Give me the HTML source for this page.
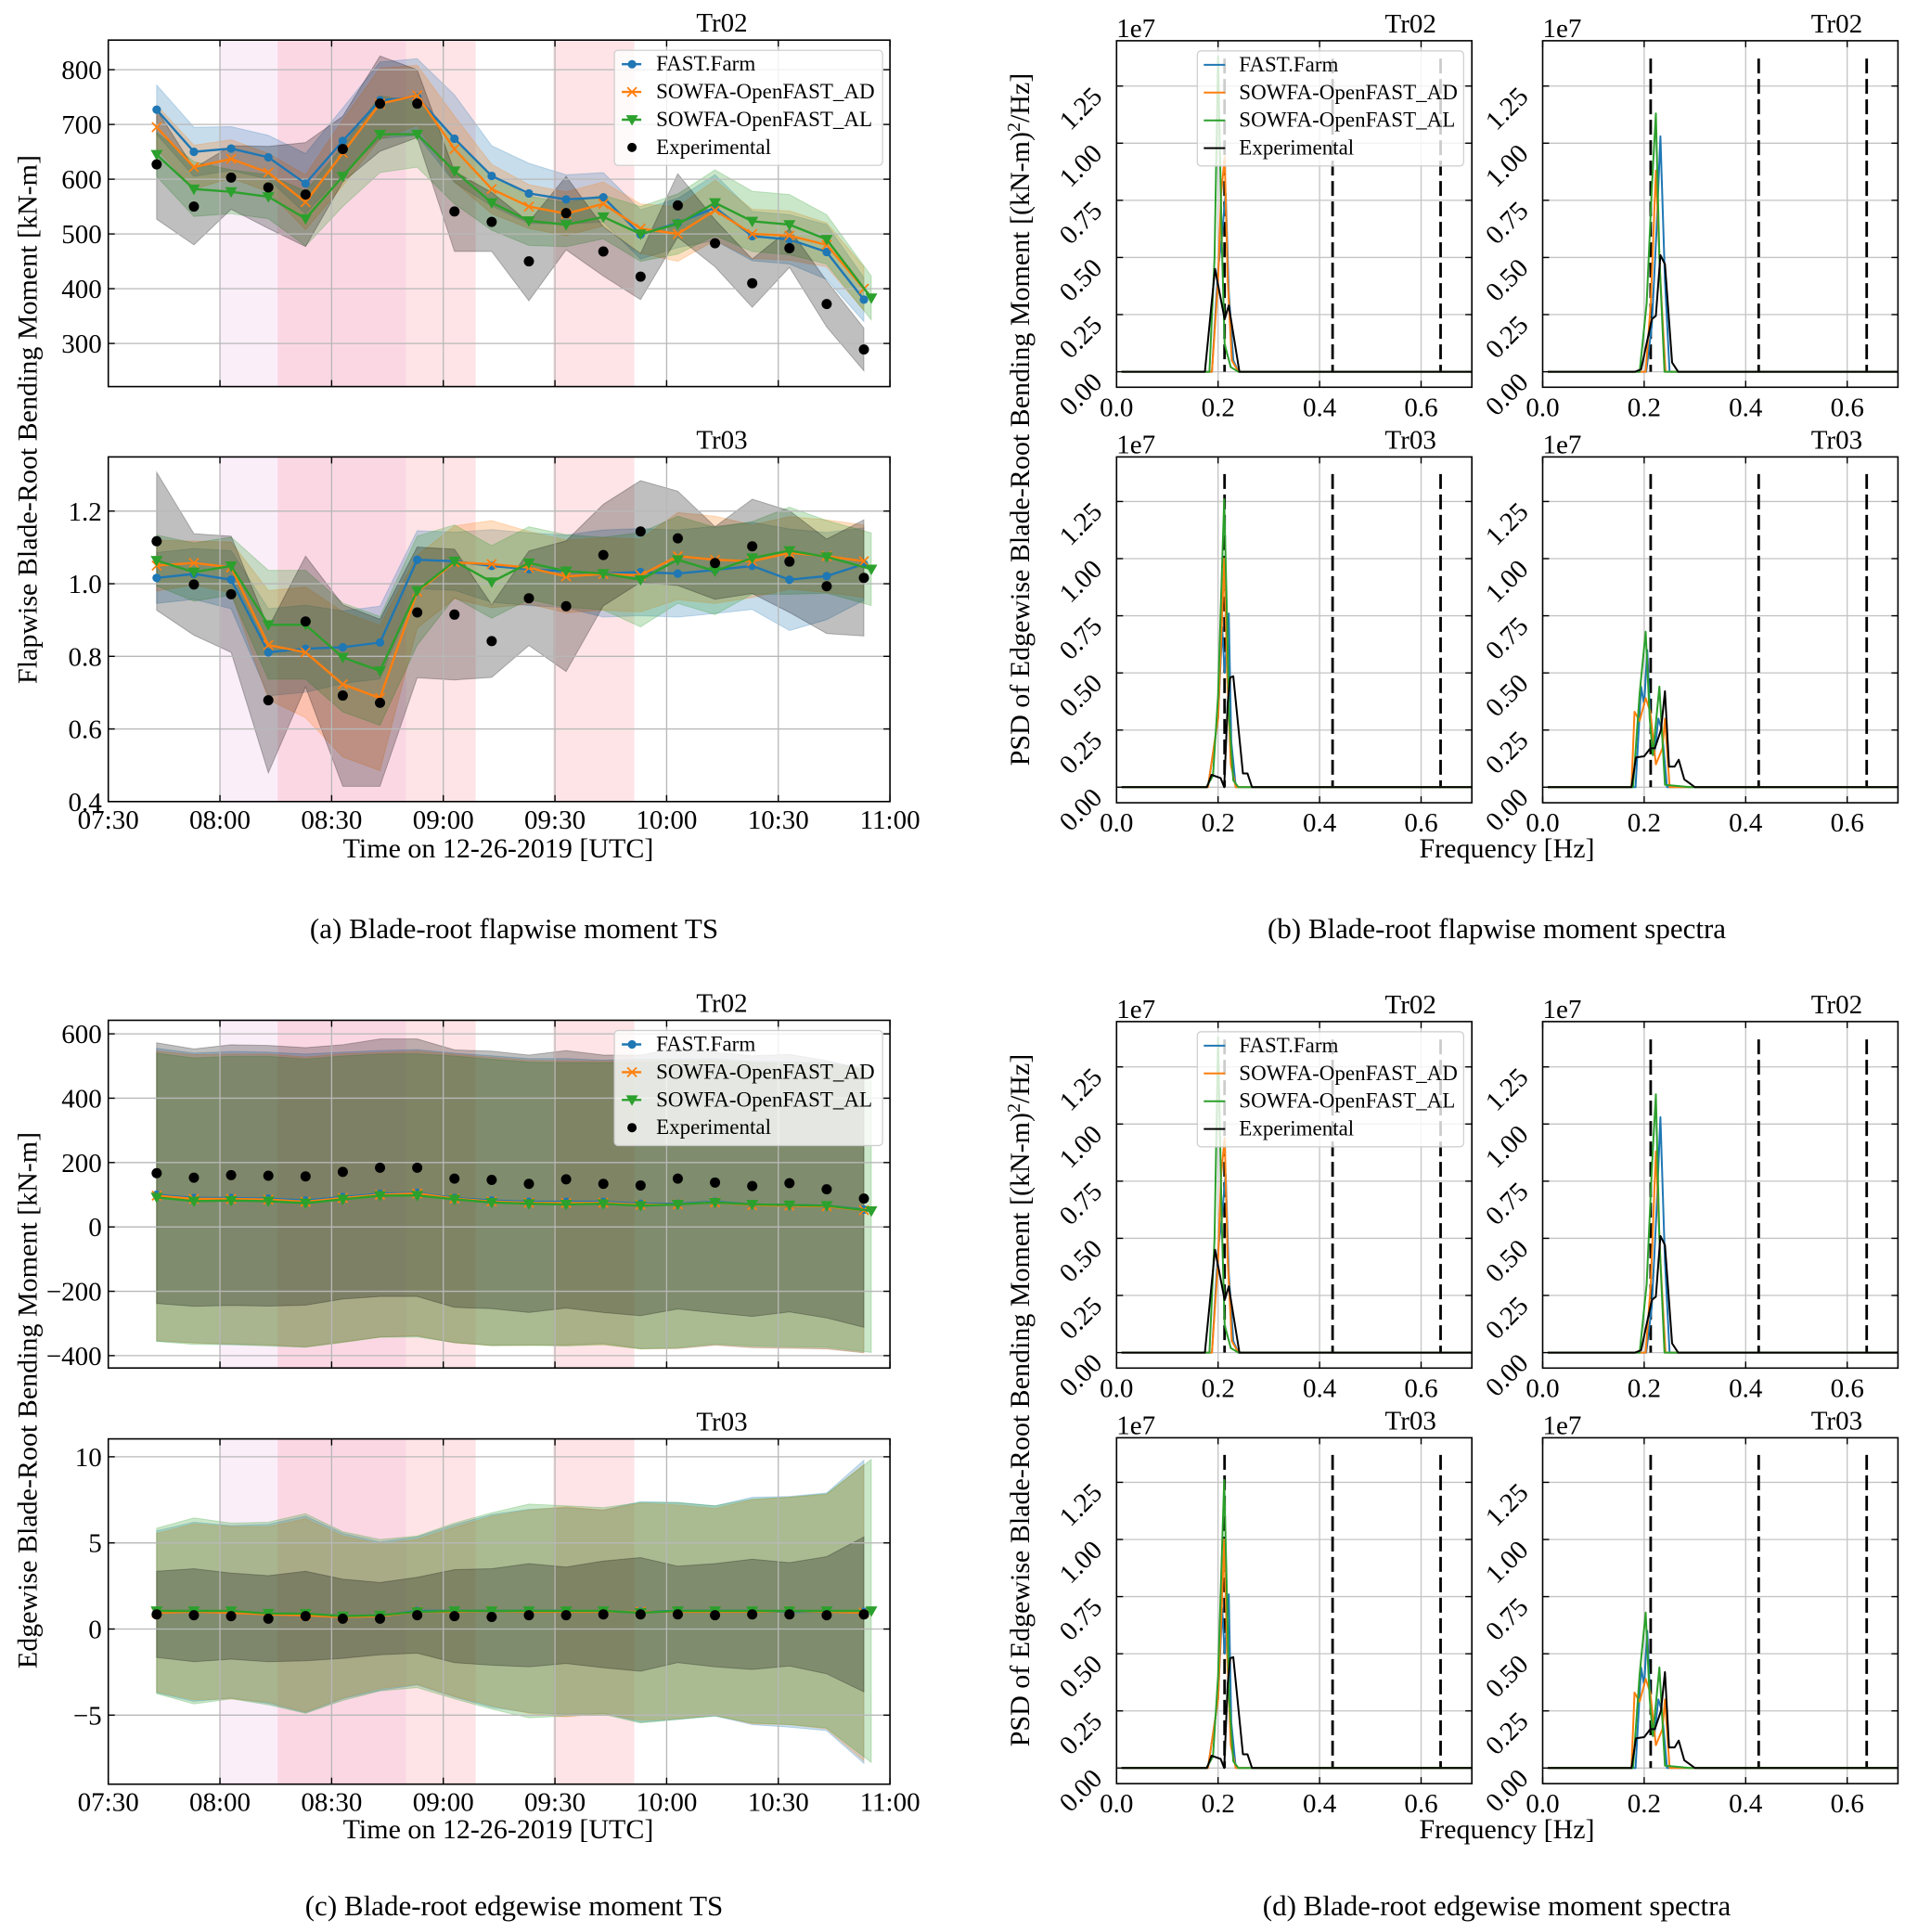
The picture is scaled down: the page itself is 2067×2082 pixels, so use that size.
<!DOCTYPE html>
<html><head><meta charset="utf-8">
<style>
html,body{margin:0;padding:0;background:#fff;}
svg{display:block;font-family:"Liberation Serif","DejaVu Serif",serif;}
</style></head>
<body>
<svg id="fig" xmlns="http://www.w3.org/2000/svg" width="2067" height="2082" viewBox="0 0 2067 2082"></svg>
<script>
// ---------- time-series data ----------
const timeMin = [13,23,33,43,53,63,73,83,93,103,113,123,133,143,153,163,173,183,193,203];
const timeMinAL = [13,23,33,43,53,63,73,83,93,103,113,123,133,143,153,163,173,183,193,205];
const xTickMin = [0,30,60,90,120,150,180,210];
const xTickLabels = ["07:30","08:00","08:30","09:00","09:30","10:00","10:30","11:00"];
const spanStartMin = [30,45.5,80,119.6];
const spanEndMin = [45.5,80,98.7,141.3];

const flapTr02Fast=[727,650,656,640,592,670,744,750,674,606,574,563,567,499,520,548,496,490,467,380];
const flapTr02AD=[695,622,637,612,558,648,738,753,655,582,550,537,555,510,500,543,500,497,480,400];
const flapTr02AL=[645,582,577,568,528,605,682,682,615,557,524,517,531,500,518,557,523,517,490,383];
const flapTr02Exp=[627,550,603,585,572,655,738,738,541,522,450,538,468,422,552,483,410,474,372,289];
const flapTr02FastW=[45,45,40,40,55,60,70,70,80,55,55,45,45,45,45,60,45,45,50,40];
const flapTr02ADW=[40,40,35,35,50,60,65,55,60,45,40,40,40,45,50,55,45,45,40,40];
const flapTr02ALW=[40,50,40,40,50,55,70,60,60,50,45,40,40,50,55,60,55,55,45,40];
const flapTr02ExpW=[100,70,58,75,95,60,87,62,73,54,72,67,45,42,58,43,44,35,42,39];

const flapTr03Fast=[1.016,1.027,1.011,0.811,0.821,0.825,0.838,1.066,1.062,1.049,1.04,1.034,1.028,1.032,1.028,1.038,1.049,1.011,1.021,1.054];
const flapTr03AD=[1.05,1.057,1.045,0.831,0.811,0.723,0.685,0.978,1.059,1.054,1.044,1.02,1.027,1.023,1.076,1.066,1.062,1.085,1.076,1.062];
const flapTr03AL=[1.064,1.032,1.049,0.887,0.887,0.797,0.76,0.981,1.062,1.005,1.057,1.035,1.028,1.011,1.066,1.035,1.071,1.091,1.074,1.04];
const flapTr03Exp=[1.117,0.998,0.971,0.679,0.896,0.692,0.672,0.921,0.915,0.842,0.96,0.938,1.079,1.144,1.125,1.057,1.103,1.061,0.993,1.016];
const flapTr03FastW=[0.07,0.07,0.08,0.12,0.12,0.1,0.1,0.08,0.08,0.1,0.1,0.1,0.12,0.12,0.12,0.12,0.12,0.14,0.12,0.1];
const flapTr03ADW=[0.07,0.06,0.07,0.15,0.18,0.2,0.2,0.1,0.1,0.12,0.1,0.1,0.1,0.1,0.12,0.12,0.1,0.1,0.1,0.1];
const flapTr03ALW=[0.07,0.08,0.08,0.15,0.15,0.15,0.15,0.15,0.1,0.1,0.1,0.1,0.1,0.13,0.12,0.12,0.1,0.12,0.1,0.1];
const flapTr03ExpW=[0.19,0.14,0.16,0.2,0.18,0.25,0.23,0.18,0.18,0.1,0.13,0.18,0.14,0.14,0.13,0.1,0.13,0.14,0.13,0.16];

const edgeTr02Fast=[100,90,90,88,82,93,103,106,90,82,78,78,78,72,72,78,70,68,66,54];
const edgeTr02AD=[97,87,87,85,78,90,100,104,88,79,75,74,75,69,70,76,68,66,64,52];
const edgeTr02AL=[92,80,82,80,74,86,97,98,86,76,72,70,72,66,70,76,70,68,66,50];
const edgeTr02Exp=[167,153,161,159,157,171,184,184,150,146,134,148,134,129,150,138,127,136,117,88];
const edgeTr02FastW=[455,450,455,455,455,450,445,445,450,450,445,445,440,450,450,445,445,445,445,445];
const edgeTr02ADW=[450,448,450,452,450,448,442,442,448,448,443,442,440,448,448,443,443,443,443,443];
const edgeTr02ALW=[448,445,448,450,448,445,440,440,445,445,440,440,438,445,445,440,440,440,440,440];
const edgeTr02ExpW=[405,400,405,405,400,395,400,400,400,400,400,400,400,405,405,405,405,400,400,400];

const edgeTr03Fast=[1.0,1.0,1.0,0.88,0.85,0.75,0.75,1.05,1.05,1.05,1.05,1.05,1.0,1.0,1.05,1.05,1.05,1.0,1.0,1.0];
const edgeTr03AD=[0.95,1.0,0.95,0.85,0.8,0.7,0.75,1.0,1.0,1.05,1.0,1.0,1.0,1.0,1.0,1.0,1.0,1.05,1.0,0.95];
const edgeTr03AL=[1.05,1.05,1.05,0.9,0.9,0.75,0.8,1.0,1.05,1.05,1.05,1.05,1.05,0.95,1.05,1.05,1.05,1.05,1.05,1.05];
const edgeTr03Exp=[0.85,0.8,0.75,0.6,0.75,0.6,0.6,0.8,0.75,0.7,0.8,0.8,0.85,0.85,0.85,0.8,0.85,0.85,0.8,0.85];
const edgeTr03FastW=[4.7,5.2,5.0,5.2,5.7,4.8,4.3,4.3,5.0,5.6,5.9,6.0,5.9,6.4,6.3,6.1,6.6,6.7,6.9,8.8];
const edgeTr03ADW=[4.6,5.1,5.0,5.1,5.6,4.7,4.2,4.2,4.9,5.5,5.9,6.1,5.9,6.3,6.2,6.0,6.5,6.6,6.8,8.6];
const edgeTr03ALW=[4.8,5.4,5.1,5.3,5.8,4.9,4.4,4.4,5.1,5.7,6.2,6.1,6.0,6.4,6.3,6.1,6.5,6.6,6.8,8.8];
const edgeTr03ExpW=[2.5,2.7,2.5,2.5,2.6,2.3,2.1,2.2,2.7,2.8,3.0,2.8,3.1,3.3,2.8,3.0,3.2,3.0,3.4,4.5];

// ---------- spectra data ([frequency Hz, PSD x1e7]) ----------
const specXTicks=[0,0.2,0.4,0.6];
const specXTickLabels=["0.0","0.2","0.4","0.6"];
const specYTicks=[0,0.25,0.5,0.75,1.0,1.25];
const specYTickLabels=["0.00","0.25","0.50","0.75","1.00","1.25"];
const harmonicsHz=[0.2128,0.4256,0.6384];
const harmonicTop=1.37;

const specTLFast=[[0.01,0],[0.188,0],[0.2,0.45],[0.207,0.58],[0.215,0.78],[0.221,0.35],[0.23,0.05],[0.24,0],[0.7,0]];
const specTLAD=[[0.01,0],[0.188,0],[0.2,0.4],[0.206,0.78],[0.213,0.94],[0.219,0.4],[0.227,0.05],[0.24,0],[0.7,0]];
const specTLAL=[[0.01,0],[0.183,0],[0.193,0.5],[0.2,1.38],[0.207,0.6],[0.213,0.12],[0.225,0.02],[0.24,0],[0.7,0]];
const specTLExp=[[0.01,0],[0.174,0],[0.194,0.45],[0.213,0.23],[0.221,0.29],[0.242,0],[0.7,0]];

const specTRFast=[[0.01,0],[0.204,0],[0.215,0.2],[0.224,0.6],[0.232,1.03],[0.241,0.4],[0.25,0],[0.7,0]];
const specTRAD=[[0.01,0],[0.203,0],[0.213,0.3],[0.223,0.88],[0.232,0.4],[0.242,0],[0.7,0]];
const specTRAL=[[0.01,0],[0.191,0],[0.205,0.3],[0.215,0.8],[0.223,1.13],[0.23,0.5],[0.24,0],[0.7,0]];
const specTRExp=[[0.01,0],[0.182,0],[0.194,0.01],[0.215,0.23],[0.223,0.245],[0.232,0.51],[0.241,0.47],[0.255,0.04],[0.267,0],[0.7,0]];

const specBLFast=[[0.01,0],[0.18,0],[0.2,0.3],[0.208,0.7],[0.213,0.5],[0.221,0.76],[0.226,0.2],[0.235,0],[0.7,0]];
const specBLAD=[[0.01,0],[0.18,0],[0.2,0.3],[0.208,0.75],[0.212,1.0],[0.218,0.5],[0.225,0.1],[0.235,0],[0.7,0]];
const specBLAL=[[0.01,0],[0.177,0],[0.19,0.05],[0.2,0.4],[0.207,0.9],[0.212,1.26],[0.217,0.8],[0.222,0.3],[0.23,0.03],[0.24,0],[0.7,0]];
const specBLExp=[[0.01,0],[0.178,0],[0.187,0.054],[0.205,0.04],[0.212,0.0],[0.219,0.37],[0.224,0.48],[0.23,0.485],[0.249,0.06],[0.258,0.06],[0.267,0],[0.7,0]];

const specBRFast=[[0.01,0],[0.183,0],[0.194,0.44],[0.2,0.36],[0.206,0.6],[0.213,0.25],[0.22,0.14],[0.228,0.3],[0.235,0.25],[0.245,0],[0.7,0]];
const specBRAD=[[0.01,0],[0.175,0],[0.181,0.33],[0.191,0.29],[0.203,0.39],[0.212,0.33],[0.223,0.1],[0.236,0.17],[0.241,0.3],[0.25,0],[0.7,0]];
const specBRAL=[[0.01,0],[0.178,0],[0.191,0.41],[0.203,0.68],[0.211,0.3],[0.217,0.14],[0.23,0.44],[0.241,0.01],[0.29,0],[0.7,0]];
const specBRExp=[[0.01,0],[0.175,0],[0.184,0.13],[0.2,0.135],[0.212,0.17],[0.221,0.17],[0.233,0.25],[0.241,0.42],[0.249,0.09],[0.26,0.09],[0.268,0.12],[0.279,0.034],[0.288,0.02],[0.3,0],[0.7,0]];

// ---------- helpers ----------
const NS='http://www.w3.org/2000/svg';
const svg=document.getElementById('fig');
const C={blue:'#1f77b4',orange:'#ff7f0e',green:'#2ca02c',black:'#000000'};
const FT=29, FL=30, FC=31, FG=23;
let clipId=0;
function el(tag,attrs,parent,name,inter){
  const e=document.createElementNS(NS,tag);
  for(const k in attrs) e.setAttribute(k,attrs[k]);
  
  
  (parent||svg).appendChild(e);
  return e;
}
function txt(parent,x,y,s,size,anchor,name,extra){
  const a=Object.assign({x:x,y:y,'font-size':size,'text-anchor':anchor||'start',fill:'#000'},extra||{});
  const t=el('text',a,parent,name,false);
  t.textContent=s;
  return t;
}
function markerCircle(g,x,y,r,col,name){ el('circle',{cx:x,cy:y,r:r,fill:col},g,name,false); }
function markerX(g,x,y,col,name){ const s=5; el('path',{d:`M${x-s},${y-s}L${x+s},${y+s}M${x-s},${y+s}L${x+s},${y-s}`,stroke:col,'stroke-width':1.8,fill:'none'},g,name,false); }
function markerTri(g,x,y,col,name){ const s=6.5; el('path',{d:`M${x-s},${y-s*0.75}L${x+s},${y-s*0.75}L${x},${y+s}Z`,fill:col},g,name,false); }

function drawTS(o){
  const g=el('g',{},svg,o.name,false);
  const X=m=>o.L+(m/210)*(o.R-o.L);
  const Y=v=>o.y0+(v-o.v0)*(o.y1-o.y0)/(o.v1-o.v0);
  const cid='clip'+(clipId++);
  const defs=el('defs',{},g,'clip-defs',false);
  const cp=el('clipPath',{id:cid},defs,'plot-clip',false);
  el('rect',{x:o.L,y:o.T,width:o.R-o.L,height:o.B-o.T},cp,'clip-rect',false);
  const pg=el('g',{'clip-path':`url(#${cid})`},g,'plot-area',false);
  const spanCols=['rgba(238,200,235,0.3)','rgba(244,150,185,0.38)','rgba(252,190,195,0.42)','rgba(252,190,195,0.42)'];
  for(let i=0;i<spanStartMin.length;i++){
    el('rect',{x:X(spanStartMin[i]),y:o.T,width:X(spanEndMin[i])-X(spanStartMin[i]),height:o.B-o.T,fill:spanCols[i]},pg,'highlight-span',false);
  }
  const ser=[
    {v:o.fast,w:o.fastW,t:timeMin,c:C.blue,n:'fast-farm'},
    {v:o.ad,w:o.adW,t:timeMin,c:C.orange,n:'sowfa-ad'},
    {v:o.al,w:o.alW,t:timeMinAL,c:C.green,n:'sowfa-al'},
    {v:o.exp,w:o.expW,t:timeMin,c:C.black,n:'experimental'}
  ];
  ser.forEach(s=>{
    let up=s.v.map((v,i)=>`${X(s.t[i]).toFixed(1)},${Y(v+s.w[i]).toFixed(1)}`);
    let lo=s.v.map((v,i)=>`${X(s.t[i]).toFixed(1)},${Y(v-s.w[i]).toFixed(1)}`).reverse();
    el('polygon',{points:up.concat(lo).join(' '),fill:s.c,'fill-opacity':0.25,stroke:s.c,'stroke-opacity':0.25,'stroke-width':1},pg,s.n+'-band',false);
  });
  xTickMin.forEach(m=>el('line',{x1:X(m),x2:X(m),y1:o.T,y2:o.B,stroke:'#b8b8b8','stroke-width':1.3},pg,'x-gridline',false));
  o.yticks.forEach(v=>el('line',{x1:o.L,x2:o.R,y1:Y(v),y2:Y(v),stroke:'#b8b8b8','stroke-width':1.3},pg,'y-gridline',false));
  ser.slice(0,3).forEach(s=>{
    const pts=s.v.map((v,i)=>`${X(s.t[i]).toFixed(1)},${Y(v).toFixed(1)}`).join(' ');
    el('polyline',{points:pts,fill:'none',stroke:s.c,'stroke-width':2.4},pg,s.n+'-line',false);
    s.v.forEach((v,i)=>{
      const x=X(s.t[i]),y=Y(v);
      if(s.n==='fast-farm') markerCircle(pg,x,y,4.6,s.c,'fast-farm-point');
      else if(s.n==='sowfa-ad') markerX(pg,x,y,s.c,'sowfa-ad-point');
      else markerTri(pg,x,y,s.c,'sowfa-al-point');
    });
  });
  o.exp.forEach((v,i)=>markerCircle(pg,X(timeMin[i]),Y(v),5.5,'#000','experimental-point'));
  el('rect',{x:o.L,y:o.T,width:o.R-o.L,height:o.B-o.T,fill:'none',stroke:'#000','stroke-width':1.6},g,'axes-frame',false);
  xTickMin.forEach(m=>{
    el('line',{x1:X(m),x2:X(m),y1:o.B,y2:o.B-7,stroke:'#000','stroke-width':1.4},g,'x-tick',false);
    el('line',{x1:X(m),x2:X(m),y1:o.T,y2:o.T+7,stroke:'#000','stroke-width':1.4},g,'x-tick-top',false);
  });
  o.yticks.forEach((v,i)=>{
    el('line',{x1:o.L,x2:o.L+7,y1:Y(v),y2:Y(v),stroke:'#000','stroke-width':1.4},g,'y-tick',false);
    el('line',{x1:o.R,x2:o.R-7,y1:Y(v),y2:Y(v),stroke:'#000','stroke-width':1.4},g,'y-tick-right',false);
    txt(g,o.L-7,Y(v)+10,o.ylabels[i],FT,'end','y-tick-label');
  });
  if(o.showX){
    xTickMin.forEach((m,i)=>txt(g,X(m),o.B+29,xTickLabels[i],FT,'middle','x-tick-label'));
  }
  txt(g,o.titleX,o.T-9,o.title,FT,'middle','subplot-title');
  if(o.legend){
    const lg=el('g',{},g,'legend',false);
    const lx=o.R-297, ly=o.T+11;
    el('rect',{x:lx,y:ly,width:289,height:124,rx:4,fill:'#fff','fill-opacity':0.8,stroke:'#cccccc','stroke-width':1.2},lg,'legend-box',false);
    const names=['FAST.Farm','SOWFA-OpenFAST_AD','SOWFA-OpenFAST_AL','Experimental'];
    const cols=[C.blue,C.orange,C.green,C.black];
    names.forEach((n,i)=>{
      const yy=ly+15+i*29.9;
      const mx=lx+19;
      if(i<3) el('line',{x1:lx+8,x2:lx+29,y1:yy,y2:yy,stroke:cols[i],'stroke-width':2.4},lg,'legend-line',false);
      if(i===0) markerCircle(lg,mx,yy,4.6,cols[i],'legend-marker');
      else if(i===1) markerX(lg,mx,yy,cols[i],'legend-marker');
      else if(i===2) markerTri(lg,mx,yy,cols[i],'legend-marker');
      else markerCircle(lg,mx,yy,5,'#000','legend-marker');
      txt(lg,lx+45,yy+7,n,FG,'start','legend-label');
    });
  }
}

function drawSpec(o){
  const g=el('g',{},svg,o.name,false);
  const X=f=>o.L+f*547;
  const Y=v=>o.Z-v*246.3;
  const cid='clip'+(clipId++);
  const defs=el('defs',{},g,'clip-defs',false);
  const cp=el('clipPath',{id:cid},defs,'plot-clip',false);
  el('rect',{x:o.L,y:o.T,width:o.R-o.L,height:o.B-o.T},cp,'clip-rect',false);
  const pg=el('g',{'clip-path':`url(#${cid})`},g,'plot-area',false);
  specXTicks.forEach(f=>el('line',{x1:X(f),x2:X(f),y1:o.T,y2:o.B,stroke:'#c4c4c4','stroke-width':1.3},pg,'x-gridline',false));
  specYTicks.forEach(v=>el('line',{x1:o.L,x2:o.R,y1:Y(v),y2:Y(v),stroke:'#c4c4c4','stroke-width':1.3},pg,'y-gridline',false));
  harmonicsHz.forEach(f=>el('line',{x1:X(f),x2:X(f),y1:Y(harmonicTop),y2:Y(0),stroke:'#000','stroke-width':2.8,'stroke-dasharray':'16 6'},pg,'harmonic-dashed-line',false));
  const ser=[[o.exp,C.black,'experimental'],[o.fast,C.blue,'fast-farm'],[o.ad,C.orange,'sowfa-ad'],[o.al,C.green,'sowfa-al']];
  [ser[1],ser[2],ser[3],ser[0]].forEach(s=>{
    const pts=s[0].map(p=>`${X(p[0]).toFixed(1)},${Y(p[1]).toFixed(1)}`).join(' ');
    el('polyline',{points:pts,fill:'none',stroke:s[1],'stroke-width':2,'stroke-linejoin':'round'},pg,s[2]+'-psd-line',false);
  });
  el('rect',{x:o.L,y:o.T,width:o.R-o.L,height:o.B-o.T,fill:'none',stroke:'#000','stroke-width':1.6},g,'axes-frame',false);
  specXTicks.forEach((f,i)=>{
    el('line',{x1:X(f),x2:X(f),y1:o.B,y2:o.B-7,stroke:'#000','stroke-width':1.4},g,'x-tick',false);
    el('line',{x1:X(f),x2:X(f),y1:o.T,y2:o.T+7,stroke:'#000','stroke-width':1.4},g,'x-tick-top',false);
    txt(g,X(f),o.B+31,specXTickLabels[i],FT,'middle','x-tick-label');
  });
  specYTicks.forEach((v,i)=>{
    el('line',{x1:o.L,x2:o.L+7,y1:Y(v),y2:Y(v),stroke:'#000','stroke-width':1.4},g,'y-tick',false);
    el('line',{x1:o.R,x2:o.R-7,y1:Y(v),y2:Y(v),stroke:'#000','stroke-width':1.4},g,'y-tick-right',false);
    const tx=o.L-14, ty=Y(v)+13;
    txt(g,tx,ty,specYTickLabels[i],FT,'end','y-tick-label',{transform:`rotate(-45 ${tx} ${ty})`});
  });
  txt(g,o.L,o.T-4,'1e7',FT,'start','offset-label');
  txt(g,o.R-66,o.T-9,o.title,FT,'middle','subplot-title');
  if(o.legend){
    const lg=el('g',{},g,'legend',false);
    const lx=o.L+87, ly=o.T+11;
    el('rect',{x:lx,y:ly,width:287,height:124,rx:4,fill:'#fff','fill-opacity':0.8,stroke:'#cccccc','stroke-width':1.2},lg,'legend-box',false);
    const names=['FAST.Farm','SOWFA-OpenFAST_AD','SOWFA-OpenFAST_AL','Experimental'];
    const cols=[C.blue,C.orange,C.green,C.black];
    names.forEach((n,i)=>{
      const yy=ly+15+i*29.9;
      el('line',{x1:lx+7,x2:lx+30,y1:yy,y2:yy,stroke:cols[i],'stroke-width':2},lg,'legend-line',false);
      txt(lg,lx+45,yy+7,n,FG,'start','legend-label');
    });
  }
}

// ---------- panel layouts ----------
const TSL=116.7, TSR=959.1;
const SL1=1203.3, SR1=1586.2, SL2=1662.5, SR2=2045.4;
const DY=1057;

drawTS({name:'flapwise-tr02-timeseries',L:TSL,R:TSR,T:43.2,B:416.6,v0:800,y0:75.1,v1:300,y1:370.1,
  yticks:[300,400,500,600,700,800],ylabels:['300','400','500','600','700','800'],showX:false,title:'Tr02',titleX:778,legend:true,
  fast:flapTr02Fast,ad:flapTr02AD,al:flapTr02AL,exp:flapTr02Exp,fastW:flapTr02FastW,adW:flapTr02ADW,alW:flapTr02ALW,expW:flapTr02ExpW});
drawTS({name:'flapwise-tr03-timeseries',L:TSL,R:TSR,T:492.4,B:863.8,v0:1.2,y0:550.8,v1:0.4,y1:863.8,
  yticks:[0.4,0.6,0.8,1.0,1.2],ylabels:['0.4','0.6','0.8','1.0','1.2'],showX:true,title:'Tr03',titleX:778,legend:false,
  fast:flapTr03Fast,ad:flapTr03AD,al:flapTr03AL,exp:flapTr03Exp,fastW:flapTr03FastW,adW:flapTr03ADW,alW:flapTr03ALW,expW:flapTr03ExpW});
drawTS({name:'edgewise-tr02-timeseries',L:TSL,R:TSR,T:1099.5,B:1474.2,v0:600,y0:1114.1,v1:-400,y1:1460.9,
  yticks:[-400,-200,0,200,400,600],ylabels:['\u2212400','\u2212200','0','200','400','600'],showX:false,title:'Tr02',titleX:778,legend:true,
  fast:edgeTr02Fast,ad:edgeTr02AD,al:edgeTr02AL,exp:edgeTr02Exp,fastW:edgeTr02FastW,adW:edgeTr02ADW,alW:edgeTr02ALW,expW:edgeTr02ExpW});
drawTS({name:'edgewise-tr03-timeseries',L:TSL,R:TSR,T:1550.6,B:1922.7,v0:10,y0:1569.9,v1:-5,y1:1848.3,
  yticks:[-5,0,5,10],ylabels:['\u22125','0','5','10'],showX:true,title:'Tr03',titleX:778,legend:false,
  fast:edgeTr03Fast,ad:edgeTr03AD,al:edgeTr03AL,exp:edgeTr03Exp,fastW:edgeTr03FastW,adW:edgeTr03ADW,alW:edgeTr03ALW,expW:edgeTr03ExpW});

[0,DY].forEach((off,k)=>{
  const p=k===0?'flapwise':'edgewise';
  drawSpec({name:p+'-spectrum-tr02-left',L:SL1,R:SR1,T:43.9+off,B:417.3+off,Z:400.6+off,title:'Tr02',legend:true,fast:specTLFast,ad:specTLAD,al:specTLAL,exp:specTLExp});
  drawSpec({name:p+'-spectrum-tr02-right',L:SL2,R:SR2,T:43.9+off,B:417.3+off,Z:400.6+off,title:'Tr02',legend:false,fast:specTRFast,ad:specTRAD,al:specTRAL,exp:specTRExp});
  drawSpec({name:p+'-spectrum-tr03-left',L:SL1,R:SR1,T:492.4+off,B:865.1+off,Z:848.3+off,title:'Tr03',legend:false,fast:specBLFast,ad:specBLAD,al:specBLAL,exp:specBLExp});
  drawSpec({name:p+'-spectrum-tr03-right',L:SL2,R:SR2,T:492.4+off,B:865.1+off,Z:848.3+off,title:'Tr03',legend:false,fast:specBRFast,ad:specBRAD,al:specBRAL,exp:specBRExp});
});

const lab=el('g',{},svg,'labels',false);
txt(lab,29.7,452,'Flapwise Blade-Root Bending Moment [kN-m]',FL,'middle','y-axis-title-a',{transform:'rotate(-90 29.7 452)',dy:'10'});
txt(lab,29.7,1509,'Edgewise Blade-Root Bending Moment [kN-m]',FL,'middle','y-axis-title-c',{transform:'rotate(-90 29.7 1509)',dy:'10'});
txt(lab,537,924,'Time on 12-26-2019 [UTC]',FL,'middle','x-axis-title-a');
txt(lab,537,1981,'Time on 12-26-2019 [UTC]',FL,'middle','x-axis-title-c');
[0,DY].forEach((off,k)=>{
  const t=el('text',{x:1099,y:452+off,'font-size':FL,'text-anchor':'middle',dy:'10',transform:`rotate(-90 1099 ${452+off})`},lab,'y-axis-title-spectra',false);
  t.innerHTML='PSD of Edgewise Blade-Root Bending Moment [(kN-m)<tspan dy="-10" font-size="20">2</tspan><tspan dy="10">/Hz]</tspan>';
  txt(lab,1624,924+off,'Frequency [Hz]',FL,'middle','x-axis-title-spectra');
});
txt(lab,554,1011,'(a) Blade-root flapwise moment TS',FC,'middle','caption-a');
txt(lab,1613,1011,'(b) Blade-root flapwise moment spectra',FC,'middle','caption-b');
txt(lab,554,2064,'(c) Blade-root edgewise moment TS',FC,'middle','caption-c');
txt(lab,1613,2064,'(d) Blade-root edgewise moment spectra',FC,'middle','caption-d');
</script>
</body></html>
